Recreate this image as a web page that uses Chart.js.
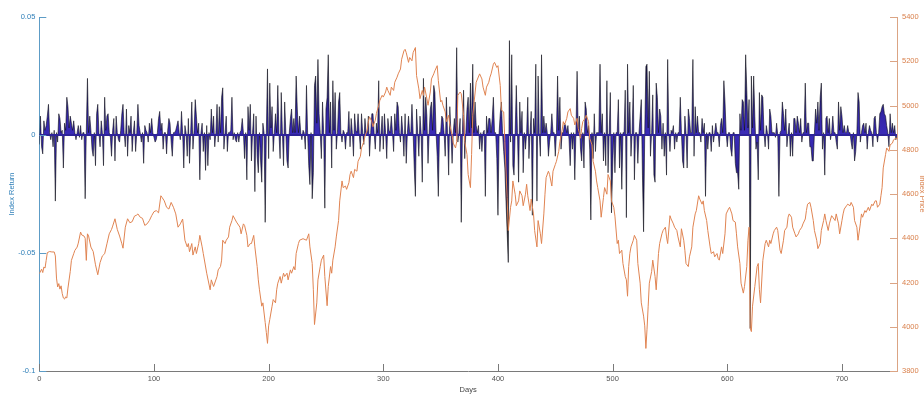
<!DOCTYPE html>
<html>
<head>
<meta charset="utf-8">
<title>Index Return and Index Price</title>
<script src="https://cdn.jsdelivr.net/npm/chart.js@4.4.1/dist/chart.umd.min.js"></script>
<style>
  html, body { margin: 0; padding: 0; background: #ffffff; }
  #wrap { width: 924px; height: 394px; position: relative; }
</style>
</head>
<body>
<div id="wrap"><canvas id="chart"></canvas></div>
<script>
// Axis tick positions and labels
const dayTicks = [0, 100, 200, 300, 400, 500, 600, 700];
const returnTicks = [-0.1, -0.05, 0, 0.05];
const returnTickLabels = ['-0.1', '-0.05', '0', '0.05'];
const levelTicks = [3800, 4000, 4200, 4400, 4600, 4800, 5000, 5200, 5400];
const levelTickLabels = ['3800', '4000', '4200', '4400', '4600', '4800', '5000', '5200', '5400'];
const lastDay = 748;

// Daily index return, in percent (day 0 .. 748)
const dailyReturnPct = [
  // 0-99
  -0.4, 0.8,-0.5,-0.8, 0.6, 0.2, 0.4, 0.8, 1.3, 0.1,
  -0.2, 0.1,-0.5, 0.2,-2.8, 0.1,-0.3, 0.9, 0.7, 0.1,
   0.2,-1.4, 0.5, 0.2, 1.6, 1.2, 0.3, 0.8, 0.5, 0.2,
   0.6, 0.1,-0.2, 0.1, 0.4,-0.1, 0.4,-0.2, 0.1, 0.1,
  -2.7, 0.2, 2.4, 0.1, 0.8, 0.2,-0.6,-0.9, 0.1,-1.3,
   0.9, 1.3, 0.1,-0.5, 0.6, 0.1,-1.3, 1.6, 0.2, 0.8,
   0.9, 0.1,-0.1,-0.9, 0.2, 0.7,-1.1, 0.8, 0.1,-0.2,
  -0.3, 0.2, 0.9, 1.3, 0.1,-0.5, 1.1,-0.9, 0.4, 0.1,
   0.8,-0.7, 0.1, 0.6,-0.7, 0.1, 1.3, 0.4, 0.1,-0.3,
   0.1,-1.2, 0.4, 0.2, 0.1,-0.3, 0.5, 0.1, 0.7, 0.1,
  // 100-199
  -0.1,-0.3,-0.2, 0.1, 0.7, 1.0, 0.2, 0.5,-0.6, 0.1,
   0.1,-0.8, 0.2, 0.7, 0.5,-0.3,-0.9, 0.1, 0.1, 0.2,
   0.4, 0.6, 0.1,-0.2, 1.0, 0.1,-1.4, 0.4, 0.1,-0.9,
   0.7,-1.2, 0.1, 1.4,-0.6, 0.2, 1.5, 0.8, 0.1, 0.5,
  -1.9, 0.1, 0.5,-0.7, 0.1,-1.5, 0.4,-1.3, 0.1,-0.2,
   1.1, 0.1, 0.8,-0.5, 0.1, 1.3,-0.3, 1.2, 0.1, 1.6,
   2.0,-0.6, 0.1, 0.8,-0.7, 0.1, 0.1, 0.2, 1.6,-0.2,
   0.1,-0.2,-0.3, 0.1,-0.3, 0.1, 0.2, 0.7, 0.1,-1.0,
   0.1,-1.9, 1.2, 0.2, 1.3,-1.1, 0.1, 0.9,-2.4, 0.8,
  -0.9,-1.6, 0.1,-1.1,-2.0, 0.5, 0.1,-3.7, 0.1, 2.8,
  // 200-299
  -1.0, 2.2, 0.3, 1.2,-0.7, 0.1, 0.9, 0.1, 2.1, 0.1,
  -1.0, 1.8, 0.1,-1.3, 1.4, 0.1,-1.1,-1.4, 0.1, 0.7,
   1.1, 0.1, 0.7, 0.1, 2.5, 1.1, 0.1, 0.8, 0.1,-0.2,
   0.2, 0.1,-0.6, 2.1, 0.1,-1.3,-2.1, 0.1,-2.7,-1.6,
   2.1, 2.5, 0.5, 3.2, 0.9, 0.1,-1.0, 1.4, 0.1,-3.1,
   1.1, 1.6, 3.4, 0.1, 1.4,-1.4, 2.3, 0.2, 1.8,-0.6,
   0.1, 1.4, 1.8, 0.1,-0.3, 0.2, 0.1,-0.6, 0.1, 0.1,
   1.0,-0.5, 0.7, 0.1,-0.9, 0.9, 0.2, 0.1, 0.9, 0.1,
  -0.6, 0.9, 0.1,-0.4, 0.7, 0.1, 0.1, 0.8,-0.9, 0.1,
   0.9, 0.9, 0.1,-0.6, 0.5, 0.1, 2.3,-0.7, 0.1, 0.8,
  // 300-399
  -0.6, 0.9, 0.1,-1.0, 0.7, 0.2, 0.1, 0.8, 0.1,-0.7,
   0.9, 0.2, 1.4, 1.2, 0.1,-0.3, 0.8, 0.1,-0.9, 0.9,
  -1.2, 0.1, 0.8, 0.1, 0.1, 1.3, 0.1,-1.4,-2.6, 1.1,
   0.1,-0.9, 0.8, 0.1,-2.0, 2.4, 0.2, 1.6, 0.8,-1.2,
   0.1, 1.1, 1.4, 0.2, 2.1, 1.8, 0.1,-0.9,-2.6, 0.1,
   0.1, 0.8, 0.7, 0.1,-0.9, 1.6, 0.1,-1.7, 1.2, 0.1,
  -1.2, 0.1, 0.7, 0.1, 3.7,-0.3, 0.1, 0.7,-3.7, 0.1,
   1.9,-1.0, 0.1, 1.1, 1.6, 0.1, 2.2, 0.3, 3.0, 0.1,
   1.4, 0.4, 0.1, 0.4,-0.6, 0.1,-0.7, 0.1, 0.2,-2.6,
   0.8, 0.1, 0.7, 0.7, 0.1, 0.7, 1.6, 0.1, 0.1,-1.0,
  // 400-499
  -3.4, 0.1, 0.9, 1.4, 0.1,-0.7,-1.4,-2.8,-4.1,-5.4,
   4.0,-0.3, 3.4,-1.3,-1.7, 0.1, 2.1, 0.1,-2.0, 1.4,
   0.1, 1.0,-1.6, 0.1,-0.6, 0.1, 1.6,-1.0, 0.1, 1.0,
  -3.4, 0.7, 0.1, 3.0,-2.8, 2.5, 0.1,-0.9, 3.4, 0.1,
   0.8, 0.1, 0.5, 0.1,-0.9,-0.3, 0.1, 0.9, 0.1, 0.1,
  -0.9, 0.1, 2.5, 0.2, 1.6,-0.6, 0.1, 0.1, 0.5, 0.4,
   0.1, 0.4,-0.2,-1.3, 0.1,-0.6, 0.1,-1.9, 0.1, 2.7,
   0.1, 0.8,-0.6,-1.1, 0.1,-1.4, 1.4, 1.1, 0.1, 0.4,
  -0.6,-3.6, 0.1,-1.0, 0.9,-0.7, 0.1, 0.1, 0.1, 3.0,
   0.1, 0.9,-1.1, 0.1,-1.3, 2.3,-1.6, 0.1, 1.8,-3.3,
  // 500-599
  -1.4, 0.1,-1.6, 0.1, 0.1, 1.5,-1.4, 0.1,-2.3, 0.1,
   0.1, 1.9,-3.5, 3.0, 0.1, 1.4,-0.9, 0.1, 2.1,-1.9,
   0.1, 0.1,-1.2, 0.1, 0.8, 1.5,-1.7,-4.1, 0.1, 2.9,
   3.0, 0.3, 2.7,-0.9, 0.1, 1.7,-1.7,-2.0, 2.2, 1.6,
   0.1, 1.1, 0.8,-0.6, 0.5,-0.9, 0.1,-1.7, 3.2, 0.1,
  -0.7, 0.2, 0.1, 0.4,-0.6, 0.1,-0.3, 0.1, 0.1, 1.6,
   0.1,-1.1,-1.4, 0.8, 0.1,-1.4, 1.1, 0.7, 0.1, 0.1,
   3.2,-0.9, 1.2, 0.1, 0.8, 0.1, 0.1,-0.3, 0.7, 0.1,
   0.5,-2.6, 0.1,-0.6, 0.1, 0.1,-0.7, 0.4,-0.3, 0.1,
   0.5, 0.1, 0.1,-0.5, 0.4, 0.7, 0.1, 2.3, 1.4, 0.1,
  // 600-699
  -0.5, 0.1, 0.1,-0.6,-0.9, 0.1, 0.1,-1.2,-1.6,-1.6,
  -2.3, 0.9, 0.2, 1.5, 1.4, 0.2, 3.4, 1.9, 0.3, 1.5,
  -8.2, 2.5, 0.3, 2.5, 0.8,-0.6,-0.3,-1.9, 1.8, 0.2,
   1.7, 1.6, 0.1,-0.5, 0.4, 0.1,-0.6, 1.1, 0.8, 0.1,
   0.1, 0.1,-0.1, 0.5, 0.0,-2.6, 0.1, 0.2, 1.4, 0.9,
   0.2, 1.1,-0.5, 0.1, 0.5,-0.9, 0.1,-0.9, 0.7, 0.7,
   0.1, 0.8, 0.5, 0.1, 0.7,-0.3, 0.1, 0.1, 2.2, 0.1,
   0.5, 0.5,-0.5,-0.5,-1.1,-1.1, 0.1, 1.1, 0.5, 1.4,
   0.2, 1.6, 2.2,-0.6, 0.1,-1.7, 0.7, 0.8, 0.1, 0.7,
  -0.2, 0.1, 0.8, 0.1, 0.1,-0.3,-0.6, 1.4, 0.2, 1.2,
  // 700-748
   0.8, 0.1, 0.4, 0.1, 0.1, 0.4, 0.1, 0.1,-0.3,-0.6,
   0.1,-1.1,-0.7, 0.1, 1.8, 1.4,-0.3, 0.1, 0.4, 0.5,
   0.1, 0.5,-0.6, 0.1, 0.4, 0.2, 0.1,-0.5, 0.7, 0.8,
   0.1,-0.3, 0.1, 0.9, 1.0, 1.2, 1.3, 0.9, 0.8, 0.4,
   0.1,-0.5, 0.9, 0.1, 0.5, 0.1, 0.4,-0.2, 0.0
];

// Index price level: [day, level]
const indexLevel = [
  [0,4240],[2,4260],[3,4245],[4,4270],[5,4265],[6,4300],[7,4335],[9,4340],[11,4338],[13,4338],
  [14,4320],[15,4220],[16,4180],[17,4195],[18,4170],[19,4185],[20,4150],[21,4130],[22,4125],[23,4135],
  [24,4130],[25,4175],[27,4250],[28,4300],[30,4330],[31,4345],[33,4360],[34,4378],[36,4428],[37,4415],
  [39,4410],[40,4400],[41,4300],[42,4420],[43,4410],[45,4360],[47,4340],[49,4280],[51,4235],[53,4290],
  [55,4320],[57,4330],[59,4375],[61,4420],[63,4440],[64,4455],[66,4488],[68,4440],[70,4410],[72,4375],
  [73,4355],[75,4450],[77,4488],[79,4470],[81,4475],[83,4500],[85,4505],[86,4510],[88,4495],[90,4490],
  [92,4458],[94,4465],[96,4480],[98,4502],[100,4520],[102,4525],[104,4515],[106,4592],[107,4585],[109,4569],
  [111,4540],[113,4532],[115,4562],[117,4540],[119,4510],[121,4450],[123,4465],[125,4487],[127,4391],[129,4361],
  [130,4376],[131,4339],[133,4376],[134,4324],[136,4361],[137,4331],[139,4376],[140,4413],[142,4361],[143,4331],
  [146,4242],[149,4167],[150,4212],[152,4182],[155,4227],[156,4257],[158,4272],[159,4301],[160,4391],[162,4376],
  [163,4391],[165,4406],[166,4450],[168,4480],[169,4502],[172,4473],[175,4450],[176,4420],[178,4465],[179,4458],
  [181,4413],[182,4361],[184,4376],[185,4376],[187,4413],[188,4361],[190,4272],[191,4212],[192,4167],[194,4093],
  [195,4108],[197,4019],[198,3974],[199,3925],[200,4004],[201,4033],[203,4093],[204,4123],[206,4108],[207,4167],
  [208,4197],[210,4227],[211,4197],[213,4242],[214,4227],[216,4242],[217,4212],[219,4257],[220,4242],[222,4272],
  [223,4257],[224,4331],[226,4376],[227,4391],[230,4398],[233,4391],[235,4420],[236,4361],[238,4286],[239,4167],
  [240,4010],[242,4108],[243,4212],[245,4272],[246,4301],[248,4324],[249,4227],[251,4095],[252,4182],[254,4272],
  [255,4242],[256,4301],[258,4361],[259,4406],[261,4480],[262,4569],[264,4659],[265,4629],[267,4636],[268,4621],
  [270,4651],[271,4688],[272,4703],[274,4674],[275,4711],[277,4703],[278,4748],[280,4770],[281,4808],[283,4837],
  [284,4860],[286,4889],[287,4927],[288,4949],[290,4927],[291,4904],[293,4934],[294,4964],[296,5001],[297,5023],
  [299,5046],[300,5038],[302,5061],[303,5083],[304,5068],[306,5046],[307,5083],[309,5068],[310,5105],[312,5128],
  [313,5143],[315,5165],[316,5209],[318,5247],[319,5254],[320,5239],[322,5195],[323,5217],[325,5202],[326,5239],
  [328,5262],[329,5135],[331,5075],[332,5031],[334,5068],[335,5046],[336,5083],[338,5031],[339,5001],[341,5061],
  [342,5120],[344,5143],[345,5157],[347,5180],[348,5113],[350,5016],[351,5023],[352,5001],[354,4971],[355,4927],
  [357,4956],[358,4912],[360,4867],[361,4830],[363,4808],[364,4837],[365,5046],[367,5061],[368,5053],[370,4956],
  [371,4837],[373,4778],[374,4688],[376,4629],[377,4778],[378,4956],[381,5105],[384,5143],[386,5120],[387,5083],
  [389,5046],[390,5083],[392,5105],[393,5128],[394,5143],[396,5187],[397,5195],[399,5172],[400,5180],[402,5090],
  [403,4979],[405,4971],[406,4837],[408,4584],[409,4435],[411,4540],[412,4569],[413,4659],[415,4599],[416,4547],
  [418,4569],[419,4614],[421,4592],[422,4547],[424,4599],[425,4644],[426,4592],[428,4525],[429,4577],[431,4510],
  [432,4435],[434,4361],[435,4480],[437,4420],[438,4376],[440,4510],[441,4599],[442,4674],[444,4703],[445,4688],
  [447,4636],[448,4703],[450,4733],[451,4748],[453,4793],[454,4837],[456,4889],[457,4927],[458,4912],[460,4942],
  [461,4971],[463,4986],[464,4956],[466,4942],[467,4912],[469,4942],[470,4897],[472,4852],[473,4897],[474,4927],
  [476,4942],[477,4956],[479,4927],[480,4852],[482,4822],[483,4748],[485,4703],[486,4659],[487,4629],[489,4569],
  [490,4495],[492,4584],[493,4629],[495,4599],[496,4688],[498,4659],[499,4569],[501,4540],[502,4500],[504,4376],
  [505,4391],[506,4331],[508,4346],[509,4286],[511,4227],[512,4212],[513,4138],[514,4272],[515,4331],[516,4361],
  [518,4391],[519,4413],[521,4391],[522,4286],[524,4197],[525,4108],[527,4048],[528,4004],[529,3902],[530,3989],
  [531,4093],[532,4197],[534,4249],[535,4301],[537,4227],[538,4167],[540,4331],[541,4376],[543,4420],[544,4435],
  [546,4450],[547,4406],[548,4376],[550,4502],[551,4487],[553,4465],[554,4450],[556,4435],[557,4406],[559,4361],
  [560,4443],[562,4391],[563,4346],[564,4286],[566,4272],[567,4316],[569,4361],[570,4450],[572,4510],[573,4525],
  [575,4592],[576,4577],[578,4554],[579,4569],[580,4525],[582,4480],[583,4435],[585,4361],[586,4331],[588,4339],
  [589,4316],[591,4331],[592,4309],[593,4301],[595,4361],[596,4331],[598,4420],[599,4510],[601,4532],[602,4540],
  [604,4510],[605,4480],[607,4473],[608,4420],[609,4361],[611,4286],[612,4197],[614,4152],[615,4182],[617,4272],
  [618,4391],[619,4450],[620,3993],[621,3978],[622,4093],[624,4182],[626,4272],[627,4286],[628,4167],[629,4108],
  [631,4300],[633,4376],[634,4391],[636,4361],[637,4391],[638,4376],[640,4420],[641,4435],[643,4450],[644,4435],
  [646,4346],[647,4331],[649,4391],[650,4435],[652,4450],[653,4495],[654,4510],[656,4495],[657,4450],[659,4420],
  [660,4406],[662,4420],[663,4435],[665,4450],[666,4465],[668,4487],[669,4525],[670,4554],[672,4562],[673,4540],
  [675,4480],[676,4435],[678,4391],[679,4353],[681,4376],[682,4435],[684,4480],[685,4510],[686,4480],[688,4435],
  [689,4465],[691,4502],[692,4495],[694,4480],[695,4510],[697,4465],[698,4420],[700,4480],[701,4510],[702,4532],
  [704,4547],[705,4554],[707,4547],[708,4562],[710,4540],[711,4480],[713,4450],[714,4391],[716,4465],[717,4510],
  [718,4495],[720,4525],[721,4517],[723,4540],[724,4525],[726,4554],[727,4547],[729,4569],[730,4569],[731,4540],
  [733,4554],[734,4592],[735,4629],[736,4718],[738,4778],[739,4808],[741,4793],[742,4822],[744,4830],[745,4845],
  [747,4852],[748,4850]
];

const FONT = "'Liberation Sans', Arial, Helvetica, sans-serif";
const LEFT_COLOR = '#2f7fb8';
const LEFT_AXIS = '#5d9cc6';
const RIGHT_COLOR = '#d9804c';
const RIGHT_AXIS = '#dba484';
const BOTTOM_COLOR = '#555555';
const BOTTOM_AXIS = '#7a7a7a';
const RETURN_BLUE = '#3a2bb8';
const TICK_LEN = 7;

const returnPoints = dailyReturnPct.map((r, day) => ({ x: day, y: r / 100 }));
const levelPoints = indexLevel.map(([day, level]) => ({ x: day, y: level }));
const zeroPoints = [{ x: 0, y: 0 }, { x: lastDay, y: 0 }];

function setTicks(values) {
  return scale => { scale.ticks = values.map(v => ({ value: v })); };
}
function labelFor(values, labels) {
  return v => labels[values.findIndex(t => Math.abs(t - v) < 1e-9)];
}

// Return fill: blue near zero, darkening toward the tips of tall spikes
function returnFill(context) {
  const chart = context.chart;
  if (!chart.chartArea) return RETURN_BLUE;
  const y = chart.scales.y;
  const top = y.getPixelForValue(0.04);
  const bottom = y.getPixelForValue(-0.04);
  const g = chart.ctx.createLinearGradient(0, top, 0, bottom);
  g.addColorStop(0.00, '#15151c');
  g.addColorStop(0.25, '#221c6e');
  g.addColorStop(0.40, '#3326a8');
  g.addColorStop(0.50, RETURN_BLUE);
  g.addColorStop(0.60, '#3326a8');
  g.addColorStop(0.75, '#221c6e');
  g.addColorStop(1.00, '#15151c');
  return g;
}

// Tick marks drawn on the inner side of each axis line
const inwardTicks = {
  id: 'inwardTicks',
  afterDatasetsDraw(chart) {
    const { ctx, chartArea: a, scales } = chart;
    ctx.save();
    ctx.lineWidth = 1;
    const mark = (scale, color, draw) => {
      ctx.strokeStyle = color;
      ctx.beginPath();
      scale.ticks.forEach(t => draw(Math.round(scale.getPixelForValue(t.value)) + 0.5));
      ctx.stroke();
    };
    mark(scales.x, BOTTOM_AXIS, p => { ctx.moveTo(p, a.bottom); ctx.lineTo(p, a.bottom - TICK_LEN); });
    mark(scales.y, LEFT_AXIS, p => { ctx.moveTo(a.left, p); ctx.lineTo(a.left + TICK_LEN, p); });
    mark(scales.y2, RIGHT_AXIS, p => { ctx.moveTo(a.right, p); ctx.lineTo(a.right - TICK_LEN, p); });
    ctx.restore();
  }
};

const labelFont = { family: FONT, size: 7.5 };
const noGrid = { display: false, drawTicks: false, drawOnChartArea: false };

new Chart(document.getElementById('chart'), {
  type: 'line',
  data: {
    datasets: [
      {
        label: 'Index Price',
        data: levelPoints,
        yAxisID: 'y2',
        borderColor: '#e08452',
        borderWidth: 1,
        pointRadius: 0,
        fill: false,
        tension: 0,
        order: 0
      },
      {
        label: 'Zero',
        data: zeroPoints,
        yAxisID: 'y',
        borderColor: '#2e2399',
        borderWidth: 2,
        pointRadius: 0,
        fill: false,
        order: 1
      },
      {
        label: 'Index Return',
        data: returnPoints,
        yAxisID: 'y',
        borderColor: 'rgba(15,15,25,0.75)',
        borderWidth: 0.8,
        backgroundColor: returnFill,
        pointRadius: 0,
        fill: 'origin',
        tension: 0,
        order: 2
      }
    ]
  },
  options: {
    responsive: true,
    maintainAspectRatio: false,
    devicePixelRatio: 1,
    animation: false,
    events: [],
    layout: { padding: { top: 17, left: 0, right: 0, bottom: 0 } },
    plugins: { legend: { display: false }, tooltip: { enabled: false } },
    scales: {
      x: {
        type: 'linear',
        position: 'bottom',
        min: 0,
        max: lastDay,
        afterBuildTicks: setTicks(dayTicks),
        afterFit: s => { s.height = 23; },
        grid: noGrid,
        border: { display: true, color: BOTTOM_AXIS, width: 1 },
        ticks: { color: BOTTOM_COLOR, font: labelFont, padding: 3, maxRotation: 0, autoSkip: false },
        title: { display: true, text: 'Days', color: '#444444', font: labelFont, padding: { top: 0, bottom: 0 } }
      },
      y: {
        type: 'linear',
        position: 'left',
        min: -0.1,
        max: 0.05,
        afterBuildTicks: setTicks(returnTicks),
        afterFit: s => { s.width = 39.3; },
        grid: noGrid,
        border: { display: true, color: LEFT_AXIS, width: 1 },
        ticks: { color: LEFT_COLOR, font: labelFont, padding: 4, callback: labelFor(returnTicks, returnTickLabels) },
        title: { display: true, text: 'Index Return', color: LEFT_COLOR, font: labelFont, padding: { top: 7.5, bottom: 0 } }
      },
      y2: {
        type: 'linear',
        position: 'right',
        min: 3800,
        max: 5400,
        afterBuildTicks: setTicks(levelTicks),
        afterFit: s => { s.width = 27; },
        grid: noGrid,
        border: { display: true, color: RIGHT_AXIS, width: 1 },
        ticks: { color: RIGHT_COLOR, font: labelFont, padding: 5, callback: labelFor(levelTicks, levelTickLabels) },
        title: { display: true, text: 'Index Price', color: RIGHT_COLOR, font: labelFont, padding: { top: -3, bottom: 0 } }
      }
    }
  },
  plugins: [inwardTicks]
});
</script>
</body>
</html>
